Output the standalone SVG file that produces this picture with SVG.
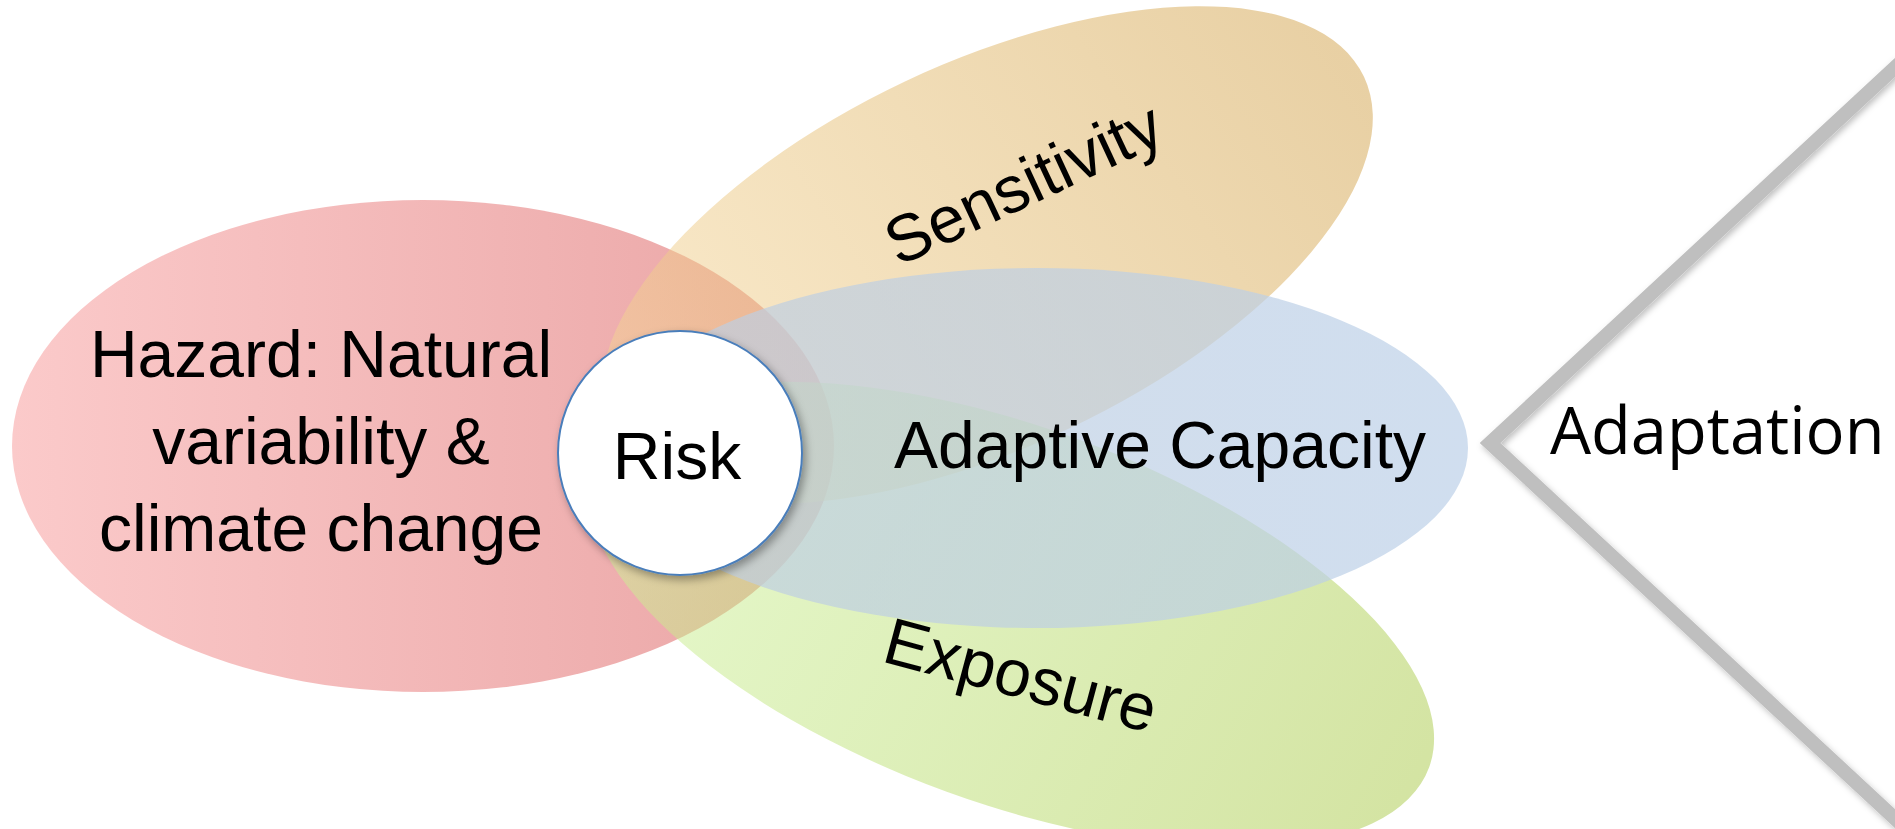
<svg xmlns="http://www.w3.org/2000/svg" width="1895" height="829" viewBox="0 0 1895 829">
  <defs>
    <linearGradient id="gRed" x1="0" y1="0" x2="1" y2="0">
      <stop offset="0" stop-color="#FBCACA"/>
      <stop offset="1" stop-color="#EAA5A5"/>
    </linearGradient>
    <linearGradient id="gYel" gradientUnits="userSpaceOnUse" x1="600" y1="300" x2="1380" y2="180">
      <stop offset="0" stop-color="#F5D596"/>
      <stop offset="1" stop-color="#D2A24A"/>
    </linearGradient>
    <linearGradient id="gGrn" gradientUnits="userSpaceOnUse" x1="590" y1="560" x2="1440" y2="700">
      <stop offset="0" stop-color="#CDF39A"/>
      <stop offset="1" stop-color="#A9C947"/>
    </linearGradient>
    <linearGradient id="gBlu" gradientUnits="userSpaceOnUse" x1="606" y1="448" x2="1468" y2="448">
      <stop offset="0" stop-color="#BFCEE0"/>
      <stop offset="1" stop-color="#BCD0E8"/>
    </linearGradient>
    <filter id="shadow" x="-20%" y="-20%" width="140%" height="140%">
      <feDropShadow dx="3" dy="4" stdDeviation="4" flood-color="#000" flood-opacity="0.35"/>
    </filter>
    <filter id="lineShadow" x="-10%" y="-10%" width="120%" height="120%">
      <feDropShadow dx="2" dy="3" stdDeviation="3" flood-color="#000" flood-opacity="0.25"/>
    </filter>
  </defs>
  <style>
    .lbl { font-family: "Liberation Sans", Arial, sans-serif; font-size: 66px; fill: #000; }
    .mid { text-anchor: middle; }
    .adapt { font-family: "Open Sans", "DejaVu Sans", sans-serif; font-size: 65px; fill: #000; }
  </style>

  <g id="hazard">
    <ellipse cx="423" cy="446" rx="411" ry="246" fill="url(#gRed)"/>
    <text class="lbl mid" x="321" y="377">Hazard: Natural</text>
    <text class="lbl mid" x="321" y="464">variability &amp;</text>
    <text class="lbl mid" x="321" y="551">climate change</text>
  </g>

  <g id="sensitivity">
    <ellipse cx="987" cy="255" rx="417" ry="192" transform="rotate(-25.3 987 255)" fill="url(#gYel)" fill-opacity="0.5"/>
    <text class="lbl mid" font-size="69" transform="translate(1033 204) rotate(-25)">Sensitivity</text>
  </g>

  <g id="exposure">
    <ellipse cx="1011" cy="615" rx="445" ry="188" transform="rotate(20 1011 615)" fill="url(#gGrn)" fill-opacity="0.5"/>
    <text class="lbl mid" font-size="67" transform="translate(1015 697) rotate(15)">Exposure</text>
  </g>

  <g id="adaptive-capacity">
    <ellipse cx="1037" cy="448" rx="431" ry="180" fill="url(#gBlu)" fill-opacity="0.7"/>
    <text class="lbl mid" x="1160" y="468">Adaptive Capacity</text>
  </g>

  <g id="risk">
    <circle cx="680" cy="453" r="122" fill="#FFFFFF" stroke="#4A7EBB" stroke-width="2" filter="url(#shadow)"/>
    <text class="lbl mid" x="677" y="479" font-size="64">Risk</text>
  </g>

  <g id="connectors">
    <polyline points="1945,21 1490,443 1945,865" fill="none" stroke="#BFBFBF" stroke-width="14" stroke-linejoin="miter" filter="url(#lineShadow)"/>
  </g>

  <g id="adaptation">
    <text class="adapt" x="1550" y="454">Adaptation</text>
  </g>
</svg>
